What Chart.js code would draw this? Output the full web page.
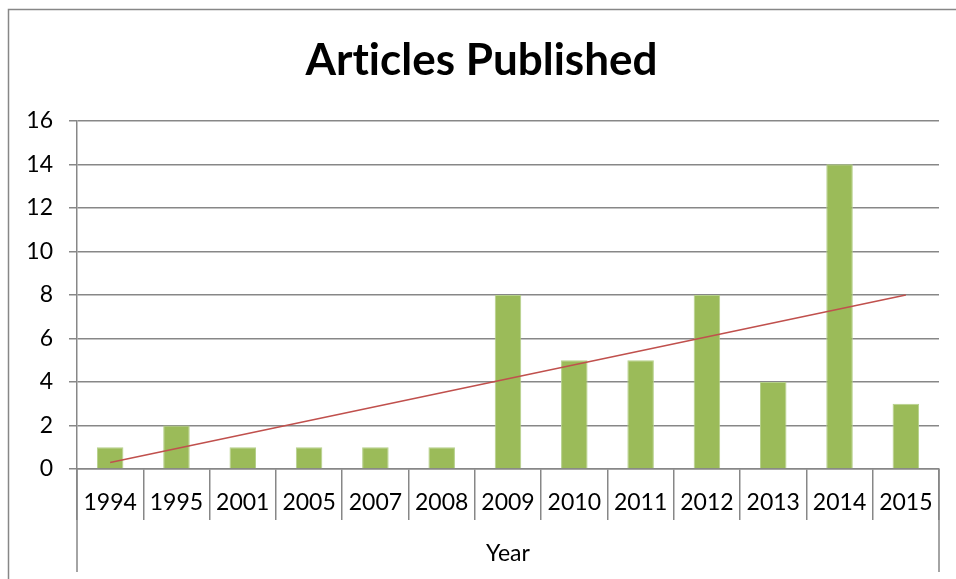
<!DOCTYPE html>
<html>
<head>
<meta charset="utf-8">
<script src="https://cdn.jsdelivr.net/npm/chart.js@4"></script>
<style>
  html, body { margin: 0; padding: 0; background: #fff; }
  #wrap { width: 956px; height: 579px; }
</style>
</head>
<body>
<div id="wrap"><canvas id="myChart"></canvas></div>
<script>
const years = ['1994', '1995', '2001', '2005', '2007', '2008', '2009', '2010', '2011', '2012', '2013', '2014', '2015'];
const articles = [1, 2, 1, 1, 1, 1, 8, 5, 5, 8, 4, 14, 3];
// linear trendline at its two ends
const trend = [0.3, null, null, null, null, null, null, null, null, null, null, null, 8.0];
const yTicks = [0, 2, 4, 6, 8, 10, 12, 14, 16];

const lineGray = '#878787';

// frame round the chart and the long outer lines of the category axis
const framePlugin = {
    id: 'frame',
    beforeDraw(chart) {
        const ctx = chart.ctx;
        ctx.letterSpacing = '0.01px'; // keeps "ti" from turning into a ligature
        ctx.save();
        ctx.strokeStyle = lineGray;
        ctx.lineWidth = 1.5;
        ctx.beginPath();
        ctx.moveTo(8.5, chart.height);
        ctx.lineTo(8.5, 9.5);
        ctx.lineTo(chart.width, 9.5);
        ctx.stroke();
        ctx.restore();
    },
    afterDraw(chart) {
        const ctx = chart.ctx;
        const x = chart.scales.x;
        const area = chart.chartArea;
        ctx.save();
        ctx.strokeStyle = lineGray;
        ctx.lineWidth = 1.5;
        ctx.beginPath();
        [x.left, x.right].forEach(px => {
            ctx.moveTo(px, area.bottom);
            ctx.lineTo(px, chart.height - 7);
        });
        ctx.stroke();
        ctx.restore();
    }
};

const data = {
    labels: years,
    datasets: [
        {
            type: 'line',
            label: 'Linear (Articles)',
            data: trend,
            borderColor: '#C0504D',
            borderWidth: 1.5,
            pointRadius: 0,
            spanGaps: true,
            tension: 0,
            order: 0
        },
        {
            type: 'bar',
            label: 'Articles',
            data: articles,
            backgroundColor: '#9BBB59',
            borderColor: '#B5D08A',
            borderWidth: 1,
            categoryPercentage: 1,
            barPercentage: 0.4,
            order: 1
        }
    ]
};

const config = {
    data: data,
    options: {
        responsive: true,
        maintainAspectRatio: false,
        animation: false,
        layout: { padding: { left: 24, right: 17, top: 0, bottom: 0 } },
        plugins: {
            legend: { display: false },
            tooltip: { enabled: false },
            title: {
                display: true,
                text: 'Articles Published',
                color: '#000',
                font: { family: 'Lato', size: 44, weight: 'bold' },
                padding: { top: 34, bottom: 34 }
            }
        },
        scales: {
            x: {
                offset: true,
                grid: {
                    offset: true,
                    drawOnChartArea: false,
                    color: lineGray,
                    lineWidth: 1.5,
                    tickLength: 51
                },
                border: { display: true, color: lineGray, width: 1.5 },
                ticks: {
                    color: '#000',
                    font: { family: 'Lato', size: 23 },
                    padding: -31,
                    maxRotation: 0,
                    autoSkip: false
                },
                title: {
                    display: true,
                    text: 'Year',
                    color: '#000',
                    font: { family: 'Lato', size: 23 },
                    padding: { top: 0, bottom: 12 }
                },
                afterFit(scale) { scale.height = 110; }
            },
            y: {
                min: 0,
                max: 16,
                afterBuildTicks(scale) { scale.ticks = yTicks.map(v => ({ value: v })); },
                grid: {
                    color: lineGray,
                    lineWidth: 1.5,
                    tickLength: 8
                },
                border: { display: true, color: lineGray, width: 1.5 },
                ticks: {
                    color: '#000',
                    font: { family: 'Lato', size: 23 },
                    padding: 16
                },
                afterFit(scale) { scale.width = 53; }
            }
        }
    },
    plugins: [framePlugin]
};

const ctx = document.getElementById('myChart').getContext('2d');
const myChart = new Chart(ctx, config);
</script>
</body>
</html>
